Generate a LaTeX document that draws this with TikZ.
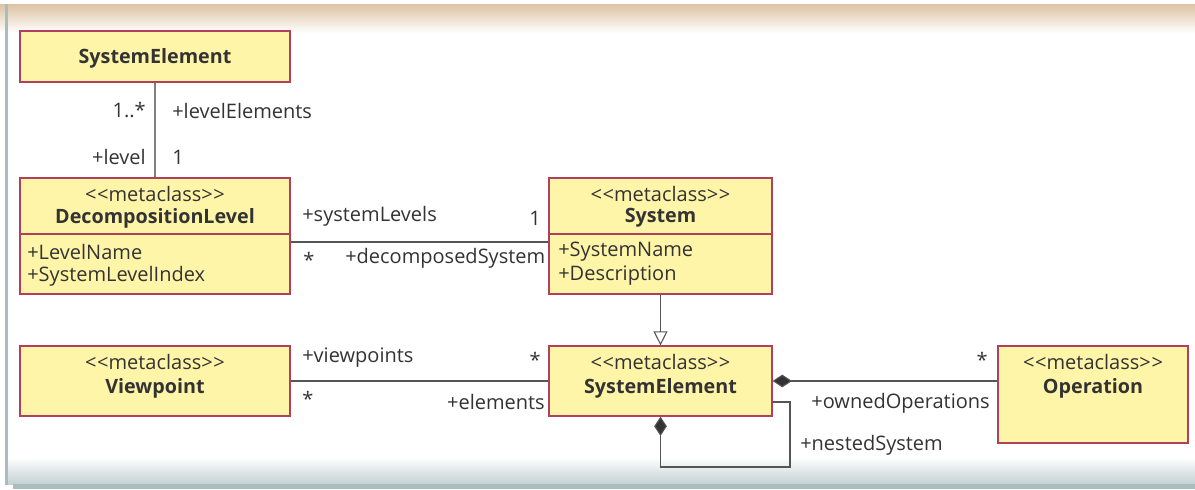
\documentclass[tikz,border=0pt]{standalone}
\usepackage{fontspec}
\setmainfont{Open Sans}
\usetikzlibrary{positioning,arrows.meta,shapes}

\definecolor{boxfill}{HTML}{FFF5A8}
\definecolor{boxline}{HTML}{B0405C}
\definecolor{ink}{HTML}{333333}
\definecolor{wire}{HTML}{555555}
\definecolor{topband}{HTML}{DCC3A3}
\definecolor{frame}{HTML}{A9BCC0}
\definecolor{lowband}{HTML}{C5D1D3}

\newdimen\pxu
\pxu=0.75pt
\newcommand{\metacls}{<\kern0.5pt<metaclass>\kern0.5pt>}

\begin{document}
\begin{tikzpicture}[x=0.75pt,y=-0.75pt,
  cls/.style={draw=boxline,fill=boxfill,line width=0.9pt,inner sep=0pt},
  lbl/.style={text=ink,inner sep=0pt,font=\fontsize{15}{17}\selectfont},
  nm/.style={lbl,font=\fontsize{14.8}{17}\selectfont\bfseries},
  assoc/.style={draw=wire,line width=0.8pt},
  comp/.style={assoc,-{Diamond[length=14.5pt,width=9.5pt,fill=ink]}},
  gen/.style={assoc,-{Triangle[open,length=10.5pt,width=10.5pt,fill=white]}}]
\useasboundingbox (0,0) rectangle (1195,489);
% frame
\shade[top color=topband,bottom color=white] (0,4) rectangle (1195,33);
\shade[top color=white,bottom color=lowband] (8,457) rectangle (1195,484);
\fill[frame] (13,484) rectangle (1195,489);
\fill[frame] (5,4) rectangle (8,485);

% classes
\node[cls,minimum width=270\pxu,minimum height=51\pxu] (topel) at (155,56.5) {};
\node[cls,minimum width=270\pxu,minimum height=116\pxu] (declvl) at (155,236) {};
\node[cls,minimum width=223\pxu,minimum height=116\pxu] (sys) at (660.5,236) {};
\node[cls,minimum width=270\pxu,minimum height=70\pxu] (vwpt) at (155,381) {};
\node[cls,minimum width=223\pxu,minimum height=70\pxu] (sysel) at (660.5,381) {};
\node[cls,minimum width=190\pxu,minimum height=97\pxu] (oper) at (1093,394.5) {};

\draw[boxline,line width=0.9pt] (declvl.west |- 0,234) -- (declvl.east |- 0,234);
\draw[boxline,line width=0.9pt] (sys.west |- 0,234) -- (sys.east |- 0,234);

\node[nm] (topelname) at (155,58) {SystemElement};

\node[lbl] (declvlst) at (155,194) {\metacls};
\node[nm] (declvlname) at (155,218) {DecompositionLevel};
\node[lbl,anchor=west] (lvlname) at (27,252) {+LevelName};
\node[lbl,anchor=west] (lvlidx) at (27,276) {+SystemLevelIndex};

\node[lbl] (sysst) at (660.5,194) {\metacls};
\node[nm] (sysname) at (660.5,218) {System};
\node[lbl,anchor=west] (sysattr) at (558,252) {+SystemName};
\node[lbl,anchor=west] (sysdesc) at (558,276) {+Description};

\node[lbl] (vwptst) at (155,362) {\metacls};
\node[nm] (vwptname) at (155,388) {Viewpoint};

\node[lbl] (syselst) at (660.5,362) {\metacls};
\node[nm] (syselname) at (660.5,388) {SystemElement};

\node[lbl] (operst) at (1093,362) {\metacls};
\node[nm] (opername) at (1093,388) {Operation};

% connectors
\draw[assoc,draw=gray] (topel.south) -- (declvl.north);
\node[lbl,anchor=east] at (146,110) {1..*};
\node[lbl,anchor=west] at (172,111) {+levelElements};
\node[lbl,anchor=east] at (146,157) {+level};
\node[lbl,anchor=west] at (172,157) {1};

\coordinate (declvlr) at (declvl.east |- 0,242);
\draw[assoc] (declvlr) -- (sys.west |- declvlr);
\node[lbl,anchor=west] at (302,216) {+systemLevels};
\node[lbl,anchor=east] at (541,218) {1};
\node[lbl,anchor=west] at (303,260) {*};
\node[lbl,anchor=west] at (345,258) {+decomposedSystem};

\draw[gen] (sys.south) -- (sysel.north);

\draw[assoc] (vwpt.east) -- (sysel.west);
\node[lbl,anchor=west] at (302,358) {+viewpoints};
\node[lbl,anchor=east] at (541,360) {*};
\node[lbl,anchor=west] at (302,399) {*};
\node[lbl,anchor=east] at (545,402) {+elements};

\draw[comp] (oper.west |- sysel.east) -- (sysel.east);
\node[lbl,anchor=east] at (988,360) {*};
\node[lbl,anchor=east] at (990,403) {+ownedOperations};

\coordinate (loopa) at (sysel.east |- 0,402);
\draw[comp] (loopa) -- (790,402) |- (sysel.south |- 0,467) -- (sysel.south);
\node[lbl,anchor=west] at (800,445) {+nestedSystem};
\end{tikzpicture}
\end{document}
